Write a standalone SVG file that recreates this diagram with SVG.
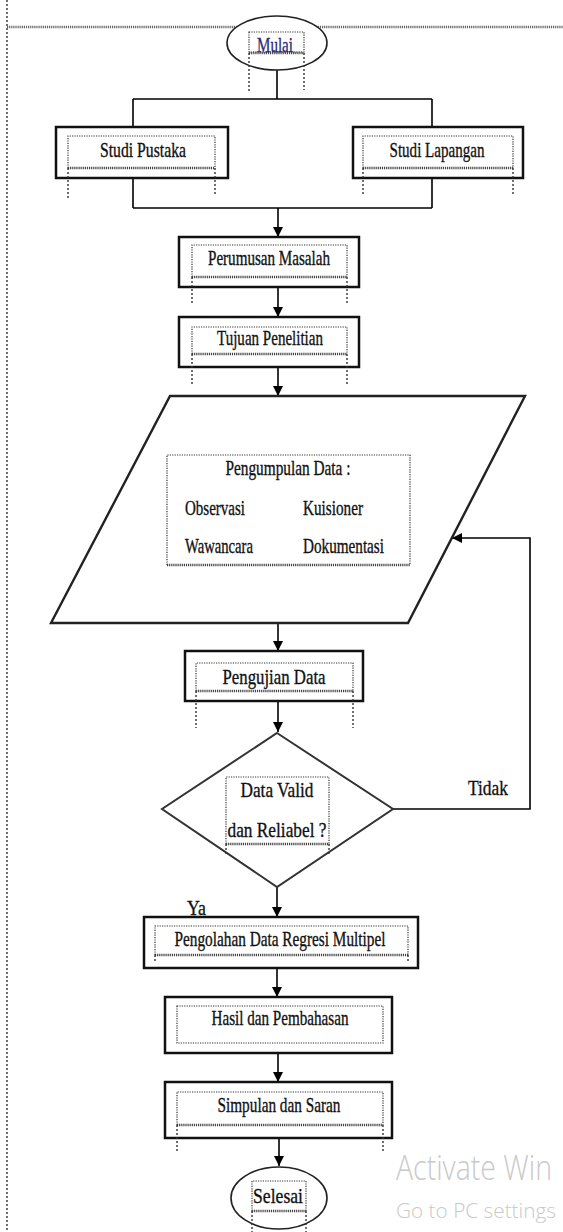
<svg xmlns="http://www.w3.org/2000/svg" width="563" height="1232" viewBox="0 0 563 1232">
<defs>
<marker id="ah" markerUnits="userSpaceOnUse" markerWidth="10" markerHeight="12" refX="10" refY="5" orient="auto">
<path d="M0,0 L10,5 L0,10 z" fill="#000"/>
</marker>
<style>
.box{fill:#fff;stroke:#111;stroke-width:2.5}
.ell{fill:#fff;stroke:#222;stroke-width:1.6}
.shape{fill:#fff;stroke:#333;stroke-width:2}
.dot{fill:none;stroke:#333;stroke-width:1.2;stroke-dasharray:1.2 1.2}
.wavy{fill:none;stroke:#444;stroke-width:2.4;stroke-dasharray:1.2 0.9}
.ext{fill:none;stroke:#333;stroke-width:1.4;stroke-dasharray:2 2}
.con{fill:none;stroke:#000;stroke-width:1.6}
.arr{fill:none;stroke:#000;stroke-width:1.6;marker-end:url(#ah)}
.t{font-family:"Liberation Serif","Times New Roman",serif;font-size:22px;fill:#111;stroke:#111;stroke-width:0.35;text-anchor:middle}
.ts{font-family:"Liberation Serif","Times New Roman",serif;font-size:22px;fill:#111;stroke:#111;stroke-width:0.35}
.wm{font-family:"Open Sans","Noto Sans",sans-serif;font-weight:300;fill:#c9c9c9}
</style>
</defs>
<rect width="563" height="1232" fill="#fff"/>
<g id="page-frame">
<path class="wavy" d="M7,27 H563" style="stroke:#666"/>
<path class="ext" d="M7,0 V1232"/>
</g>
<g id="connectors">
<path class="con" d="M277,70 V99 M133,99 H432 M133,99 V127 M432,99 V127"/>
<path class="con" d="M133,178 V208 M432,178 V208 M133,208 H432"/>
<path class="arr" d="M278,208 V237"/>
<path class="arr" d="M278,287 V317"/>
<path class="arr" d="M278,367 V396"/>
<path class="arr" d="M278,623 V651"/>
<path class="arr" d="M278,701 V732"/>
<path class="arr" d="M277,887 V917"/>
<path class="arr" d="M277,968 V997"/>
<path class="arr" d="M278,1053 V1082"/>
<path class="arr" d="M279,1138 V1166"/>
<path class="arr" d="M393,809 H530 V538 H452"/>
</g>
<g id="mulai">
<ellipse class="ell" cx="277" cy="43" rx="50" ry="27"/>
<rect class="dot" x="249" y="32" width="55" height="20"/>
<path class="wavy" d="M249,53 H304"/>
<path class="ext" d="M249,53 V92 M304,53 V90"/>
<text class="t" x="275" y="52" textLength="36" lengthAdjust="spacingAndGlyphs" style="fill:#2b2b7a;stroke:#2b2b7a">Mulai</text>
</g>
<g id="studi-pustaka">
<rect class="box" x="56" y="127" width="172" height="51"/>
<path class="dot" d="M68,168 V136 H215 V168"/>
<path class="wavy" d="M68,168 H215"/>
<path class="ext" d="M68,168 V198 M215,168 V195"/>
<text class="t" x="143" y="157" textLength="86" lengthAdjust="spacingAndGlyphs">Studi Pustaka</text>
</g>
<g id="studi-lapangan">
<rect class="box" x="353" y="127" width="170" height="51"/>
<path class="dot" d="M363,168 V136 H513 V168"/>
<path class="wavy" d="M363,168 H513"/>
<path class="ext" d="M363,168 V195 M513,168 V195"/>
<text class="t" x="437" y="157" textLength="95" lengthAdjust="spacingAndGlyphs">Studi Lapangan</text>
</g>
<g id="perumusan-masalah">
<rect class="box" x="179" y="237" width="180" height="50"/>
<path class="dot" d="M192,277 V245 H347 V277"/>
<path class="wavy" d="M192,277 H347"/>
<path class="ext" d="M192,277 V305 M347,277 V305"/>
<text class="t" x="269" y="265" textLength="122" lengthAdjust="spacingAndGlyphs">Perumusan Masalah</text>
</g>
<g id="tujuan-penelitian">
<rect class="box" x="179" y="317" width="180" height="50"/>
<path class="dot" d="M192,354 V327 H347 V354"/>
<path class="wavy" d="M192,354 H347"/>
<path class="ext" d="M192,354 V386 M347,354 V386"/>
<text class="t" x="270" y="345" textLength="106" lengthAdjust="spacingAndGlyphs">Tujuan Penelitian</text>
</g>
<g id="pengumpulan-data">
<polygon class="shape" points="170,396 525,396 408,623 51,623" style="stroke:#222;stroke-width:2.4"/>
<path class="dot" d="M167,565 V455 H410 V565"/>
<path class="wavy" d="M167,565 H410"/>
<text class="t" x="288" y="475" textLength="125" lengthAdjust="spacingAndGlyphs">Pengumpulan Data :</text>
<text class="ts" x="185" y="515" textLength="60" lengthAdjust="spacingAndGlyphs">Observasi</text>
<text class="ts" x="303" y="515" textLength="60" lengthAdjust="spacingAndGlyphs">Kuisioner</text>
<text class="ts" x="185" y="553" textLength="68" lengthAdjust="spacingAndGlyphs">Wawancara</text>
<text class="ts" x="303" y="553" textLength="81" lengthAdjust="spacingAndGlyphs">Dokumentasi</text>
</g>
<g id="pengujian-data">
<rect class="box" x="185" y="651" width="178" height="50"/>
<path class="dot" d="M196,691 V663 H353 V691"/>
<path class="wavy" d="M196,691 H353"/>
<path class="ext" d="M196,691 V728 M353,691 V728"/>
<text class="t" x="274" y="684" textLength="103" lengthAdjust="spacingAndGlyphs">Pengujian Data</text>
</g>
<g id="data-valid">
<polygon class="shape" points="277,733 393,809 277,887 162,809"/>
<path class="dot" d="M226,844 V777 H329 V844"/>
<path class="wavy" d="M226,844 H329"/>
<path class="ext" d="M226,844 V855 M329,844 V855"/>
<text class="t" x="277" y="797" textLength="73" lengthAdjust="spacingAndGlyphs">Data Valid</text>
<text class="t" x="277" y="837" textLength="99" lengthAdjust="spacingAndGlyphs">dan Reliabel ?</text>
</g>
<g id="labels">
<text class="ts" x="468" y="795" textLength="40" lengthAdjust="spacingAndGlyphs">Tidak</text>
<text class="ts" x="187" y="915" textLength="19" lengthAdjust="spacingAndGlyphs">Ya</text>
</g>
<g id="pengolahan-data">
<rect class="box" x="144" y="917" width="274" height="51"/>
<path class="dot" d="M155,955 V926 H408 V955"/>
<path class="wavy" d="M155,955 H408"/>
<path class="ext" d="M155,955 V963 M408,955 V963"/>
<text class="t" x="280" y="946" textLength="211" lengthAdjust="spacingAndGlyphs">Pengolahan Data Regresi Multipel</text>
</g>
<g id="hasil-pembahasan">
<rect class="box" x="165" y="997" width="227" height="56"/>
<rect class="dot" x="177" y="1006" width="206" height="37"/>
<text class="t" x="280" y="1025" textLength="137" lengthAdjust="spacingAndGlyphs">Hasil dan Pembahasan</text>
</g>
<g id="simpulan-saran">
<rect class="box" x="165" y="1082" width="227" height="56"/>
<path class="dot" d="M177,1125 V1092 H383 V1125"/>
<path class="wavy" d="M177,1125 H383"/>
<path class="ext" d="M177,1125 V1153 M383,1125 V1153"/>
<text class="t" x="279" y="1112" textLength="123" lengthAdjust="spacingAndGlyphs">Simpulan dan Saran</text>
</g>
<g id="selesai">
<ellipse class="ell" cx="279" cy="1198" rx="48" ry="31"/>
<path class="dot" d="M252,1211 V1181 H306 V1211"/>
<path class="wavy" d="M252,1211 H306"/>
<path class="ext" d="M252,1211 V1232 M306,1211 V1232"/>
<text class="t" x="278" y="1203" textLength="50" lengthAdjust="spacingAndGlyphs">Selesai</text>
</g>
<g id="watermark">
<text class="wm" x="396" y="1180" font-size="35" textLength="156" lengthAdjust="spacingAndGlyphs">Activate Win</text>
<text class="wm" x="396" y="1218" font-size="21" textLength="160" lengthAdjust="spacingAndGlyphs">Go to PC settings</text>
</g>
</svg>
